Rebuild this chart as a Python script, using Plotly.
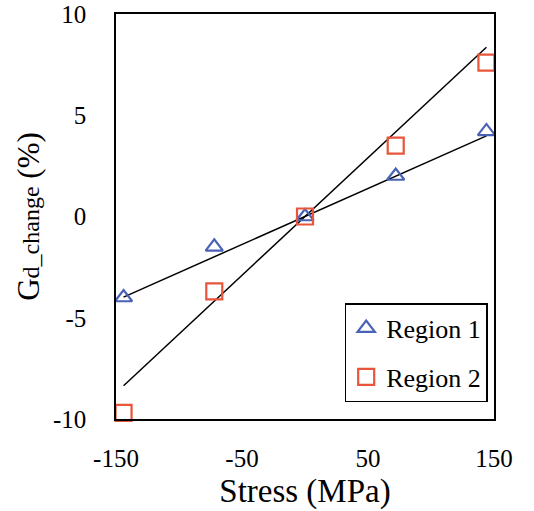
import numpy as np
import plotly.graph_objects as go

stress = [-144, -72, 0, 72, 144]
region1 = [-4.0, -1.5, 0.0, 2.0, 4.2]
region2 = [-9.7, -3.7, 0.0, 3.5, 7.6]
x_ticks = [-150, -50, 50, 150]
x_ticktext = ["-150", "-50", "50", "150"]
y_ticks = [-10, -5, 0, 5, 10]
y_ticktext = ["-10", "-5", "0", "5", "10"]

FONT = "Liberation Serif, Times New Roman, serif"
blue = "#4a62b5"
red = "#e8553a"

def fit_origin(x, y):
    x = np.asarray(x, float); y = np.asarray(y, float)
    return float((x * y).sum() / (x * x).sum())

fig = go.Figure()
xs = np.array([min(stress), max(stress)], float)
for vals in (region1, region2):
    k = fit_origin(stress, vals)
    fig.add_trace(go.Scatter(x=xs, y=k * xs, mode="lines",
                             line=dict(color="black", width=1.5),
                             showlegend=False, hoverinfo="skip", cliponaxis=False))

fig.add_trace(go.Scatter(x=stress, y=region1, mode="markers", name="Region 1",
                         legendgroup="a",
                         marker=dict(symbol="triangle-up-open", size=15, color=blue,
                                     line=dict(width=2.2, color=blue)),
                         cliponaxis=False))
fig.add_trace(go.Scatter(x=stress, y=region2, mode="markers", name="Region 2",
                         legendgroup="b",
                         marker=dict(symbol="square-open", size=16, color=red,
                                     line=dict(width=2.2, color=red)),
                         cliponaxis=False))

fig.update_layout(
    width=534, height=511,
    margin=dict(l=116, r=40, t=14, b=92, autoexpand=False),
    paper_bgcolor="white", plot_bgcolor="white",
    font=dict(family=FONT, color="black", size=24),
    legend=dict(x=0.605, y=0.286, xanchor="left", yanchor="top",
                bordercolor="black", borderwidth=1.5, bgcolor="white",
                font=dict(size=26, family=FONT), tracegroupgap=12,
                itemwidth=30),
    xaxis=dict(range=[-150, 150], tickvals=x_ticks, ticktext=x_ticktext, ticks="",
               showline=True, mirror=True, linecolor="black", linewidth=1.5,
               showgrid=False, zeroline=False, ticklabelstandoff=16,
               tickfont=dict(size=25), automargin=False,
               title=dict(text="Stress (MPa)", font=dict(size=33), standoff=8)),
    yaxis=dict(range=[-10, 10], tickvals=y_ticks, ticktext=y_ticktext, ticks="",
               showline=True, mirror=True, linecolor="black", linewidth=1.5,
               showgrid=False, zeroline=False, ticklabelstandoff=23,
               tickfont=dict(size=25), automargin=False,
               title=dict(text="G<span style='font-size:24px'>d_change</span> (%)",
                          font=dict(size=31), standoff=4)),
)

fig.write_html("out.html", config={"displayModeBar": False},
               post_script="document.body.style.margin='0';")
